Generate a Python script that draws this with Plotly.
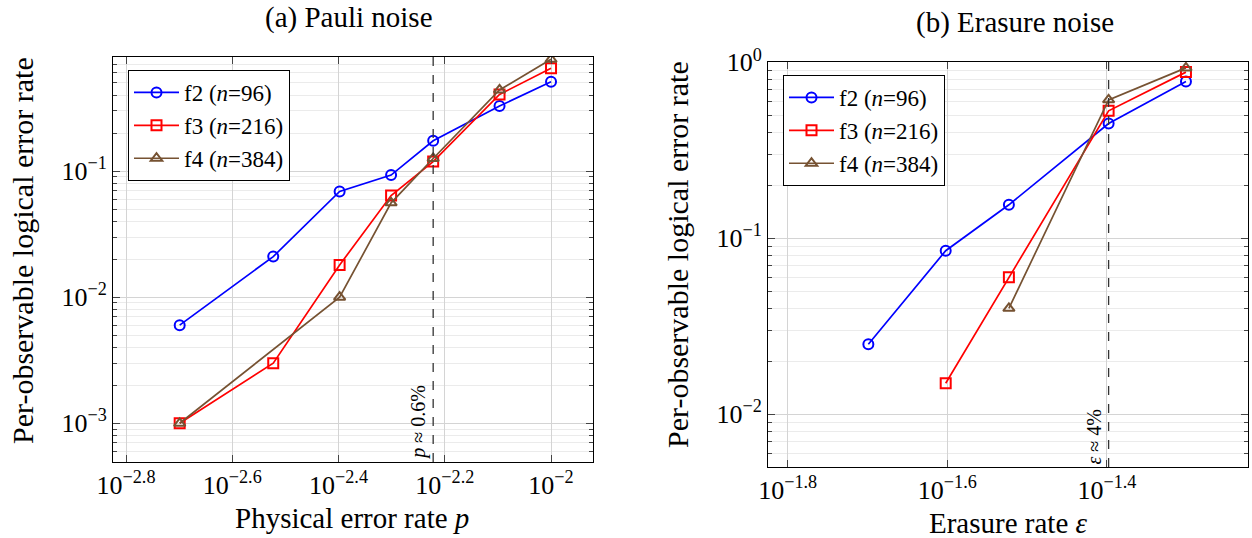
import math
import plotly.graph_objects as go

# ---------------- data ----------------
# (a) Pauli noise
pauli_p = [0.002, 0.003, 0.004, 0.005, 0.006, 0.008, 0.01]
pauli_f2 = [0.006, 0.021, 0.069, 0.093, 0.174, 0.328, 0.512]
pauli_f3 = [0.001, 0.003, 0.018, 0.064, 0.119, 0.406, 0.653]
pauli_f4_p = [0.002, 0.004, 0.005, 0.006, 0.008, 0.01]
pauli_f4 = [0.001, 0.010, 0.056, 0.126, 0.440, 0.770]
pauli_threshold = 0.006

# (b) Erasure noise
erasure_f2_e = [0.02, 0.025, 0.03, 0.04, 0.05]
erasure_f2 = [0.025, 0.085, 0.155, 0.449, 0.778]
erasure_f3_e = [0.025, 0.03, 0.04, 0.05]
erasure_f3 = [0.015, 0.060, 0.530, 0.880]
erasure_f4_e = [0.03, 0.04, 0.05]
erasure_f4 = [0.040, 0.612, 0.930]
erasure_threshold = 0.04

series_names = ["f2 (<i>n</i>=96)", "f3 (<i>n</i>=216)", "f4 (<i>n</i>=384)"]
series_colors = ["#0000FF", "#FF0000", "#765232"]
series_symbols = ["circle-open", "square-open", "triangle-up-open"]

# tick labels (log10 exponents)
pauli_xtick_exp = [-2.8, -2.6, -2.4, -2.2, -2.0]
pauli_xtick_txt = ["10<sup>\u22122.8</sup>", "10<sup>\u22122.6</sup>", "10<sup>\u22122.4</sup>",
                   "10<sup>\u22122.2</sup>", "10<sup>\u22122</sup>"]
pauli_ytick_exp = [-3, -2, -1]
pauli_ytick_txt = ["10<sup>\u22123</sup>", "10<sup>\u22122</sup>", "10<sup>\u22121</sup>"]
erasure_xtick_exp = [-1.8, -1.6, -1.4]
erasure_xtick_txt = ["10<sup>\u22121.8</sup>", "10<sup>\u22121.6</sup>", "10<sup>\u22121.4</sup>"]
erasure_ytick_exp = [-2, -1, 0]
erasure_ytick_txt = ["10<sup>\u22122</sup>", "10<sup>\u22121</sup>", "10<sup>0</sup>"]

# axis ranges (log10)
pauli_xrange = [-2.8245, -1.921]
pauli_yrange = [-3.307, -0.095]
erasure_xrange = [-1.8247, -1.2233]
erasure_yrange = [-2.30, 0.002]

FONT = "Liberation Serif"
W, H = 1252, 538

fig = go.Figure()

def add_series(xs, ys, idx, xa, ya, legend):
    fig.add_trace(go.Scatter(
        x=xs, y=ys, mode="lines+markers", name=series_names[idx],
        line=dict(color=series_colors[idx], width=1.7),
        marker=dict(symbol=series_symbols[idx], size=10, color=series_colors[idx],
                    line=dict(width=2, color=series_colors[idx])),
        xaxis=xa, yaxis=ya, legend=legend))

add_series(pauli_p, pauli_f2, 0, "x", "y", "legend")
add_series(pauli_p, pauli_f3, 1, "x", "y", "legend")
add_series(pauli_f4_p, pauli_f4, 2, "x", "y", "legend")
add_series(erasure_f2_e, erasure_f2, 0, "x2", "y2", "legend2")
add_series(erasure_f3_e, erasure_f3, 1, "x2", "y2", "legend2")
add_series(erasure_f4_e, erasure_f4, 2, "x2", "y2", "legend2")

# threshold dashed lines
for thr, yr, xa, ya in [(pauli_threshold, pauli_yrange, "x", "y"),
                        (erasure_threshold, erasure_yrange, "x2", "y2")]:
    fig.add_trace(go.Scatter(
        x=[thr, thr], y=[10 ** yr[0], 10 ** yr[1]], mode="lines",
        line=dict(color="#333333", width=1.3, dash="dash"),
        showlegend=False, hoverinfo="skip", xaxis=xa, yaxis=ya))

def px_dom_x(a, b):
    return [a / W, b / W]

def px_dom_y(top, bottom):
    return [(H - bottom) / H, (H - top) / H]

axis_common = dict(type="log", showline=True, linecolor="black", linewidth=1,
                   mirror="allticks", ticks="inside", ticklen=7, tickcolor="#444",
                   gridcolor="#d4d4d4", gridwidth=1, zeroline=False, automargin=False,
                   tickfont=dict(family=FONT, size=26, color="black"))

legend_style = dict(xanchor="left", yanchor="top", bgcolor="white", bordercolor="black",
                    borderwidth=1, itemwidth=45, tracegroupgap=0,
                    font=dict(family=FONT, size=23, color="black"))

fig.update_layout(
    template="none",
    width=W, height=H, margin=dict(l=0, r=0, t=0, b=0, autoexpand=False),
    paper_bgcolor="white", plot_bgcolor="white",
    font=dict(family=FONT, color="black"),
    xaxis=dict(axis_common, domain=px_dom_x(113, 593), range=pauli_xrange, anchor="y",
               tickmode="array", tickvals=[10 ** e for e in pauli_xtick_exp],
               ticktext=pauli_xtick_txt),
    yaxis=dict(axis_common, domain=px_dom_y(57, 462), range=pauli_yrange, anchor="x",
               tickmode="array", tickvals=[10 ** e for e in pauli_ytick_exp],
               ticktext=pauli_ytick_txt,
               minor=dict(dtick="D1", ticks="inside", ticklen=4, tickcolor="#444",
                          showgrid=True, gridcolor="#ebebeb")),
    xaxis2=dict(axis_common, domain=px_dom_x(768, 1248), range=erasure_xrange, anchor="y2",
                tickmode="array", tickvals=[10 ** e for e in erasure_xtick_exp],
                ticktext=erasure_xtick_txt),
    yaxis2=dict(axis_common, domain=px_dom_y(62, 467), range=erasure_yrange, anchor="x2",
                tickmode="array", tickvals=[10 ** e for e in erasure_ytick_exp],
                ticktext=erasure_ytick_txt,
                minor=dict(dtick="D1", ticks="inside", ticklen=4, tickcolor="#444",
                           showgrid=True, gridcolor="#ebebeb")),
    legend=dict(legend_style, x=128 / W, y=1 - 70 / H),
    legend2=dict(legend_style, x=783 / W, y=1 - 75 / H),
    showlegend=True,
)

ann = []
def text(x, y, s, size=29, angle=0):
    ann.append(dict(x=x / W, y=1 - y / H, xref="paper", yref="paper", text=s,
                    showarrow=False, textangle=angle, xanchor="center", yanchor="middle",
                    font=dict(family=FONT, size=size, color="black")))

text(349, 17, "(a) Pauli noise")
text(1015, 22, "(b) Erasure noise")
text(352, 518, "Physical error rate <i>p</i>")
text(1008, 523, "Erasure rate <i>\u03b5</i>")
text(22, 251, "Per-observable logical error rate", size=30, angle=-90)
text(677, 255, "Per-observable logical error rate", size=30, angle=-90)
fig.update_layout(annotations=ann)

fig.add_annotation(x=math.log10(pauli_threshold), y=0, xref="x", yref="y domain",
                   text="<i>p</i> \u2248 0.6%", textangle=-90, showarrow=False,
                   xanchor="center", yanchor="bottom", xshift=-15,
                   font=dict(family=FONT, size=20, color="black"))
fig.add_annotation(x=math.log10(erasure_threshold), y=0, xref="x2", yref="y2 domain",
                   text="<i>\u03b5</i> \u2248 4%", textangle=-90, showarrow=False,
                   xanchor="center", yanchor="bottom", xshift=-15,
                   font=dict(family=FONT, size=20, color="black"))

fig.write_html("out.html", config={"responsive": False, "displayModeBar": False},
               post_script="document.body.style.margin='0';document.body.style.overflow='hidden';")
